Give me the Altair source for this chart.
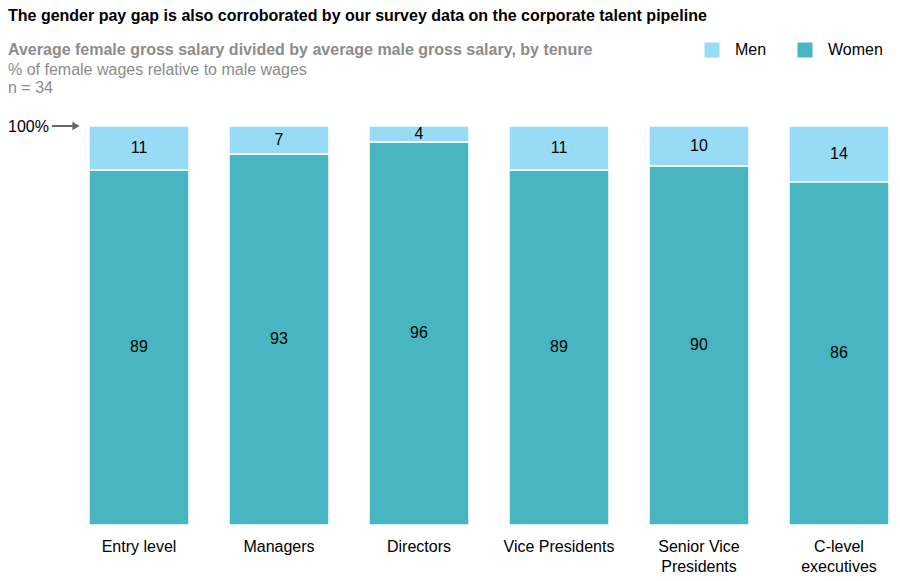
import altair as alt
import pandas as pd

categories = ["Entry level", "Managers", "Directors", "Vice Presidents",
              "Senior Vice Presidents", "C-level executives"]
men = [11, 7, 4, 11, 10, 14]
women = [89, 93, 96, 89, 90, 86]
series = ["Men", "Women"]
colors = ["#98DBF6", "#48B6C2"]

FONT = "Liberation Sans"
FS = 16

rows = []
for c, m, w in zip(categories, men, women):
    rows.append({"category": c, "series": "Women", "value": w, "ord": 0, "mid": w / 2})
    rows.append({"category": c, "series": "Men", "value": m, "ord": 1, "mid": w + m / 2})
df = pd.DataFrame(rows)

label_expr = ("datum.label == 'Senior Vice Presidents' ? ['Senior Vice','Presidents'] : "
              "datum.label == 'C-level executives' ? ['C-level','executives'] : datum.label")

xenc = alt.X("category:N", sort=categories, title=None,
             scale=alt.Scale(paddingInner=0.2857, paddingOuter=0.0214),
             axis=alt.Axis(domain=False, ticks=False, labelAngle=0, labelFont=FONT,
                           labelFontSize=FS, labelColor="black", labelPadding=13,
                           labelLineHeight=20, labelExpr=label_expr, labelBaseline="top"))

bars = alt.Chart(df).mark_bar(stroke="white", strokeWidth=1.5).encode(
    x=xenc,
    y=alt.Y("value:Q", stack="zero", scale=alt.Scale(domain=[0, 100], nice=False), axis=None),
    color=alt.Color("series:N", scale=alt.Scale(domain=series, range=colors),
                    legend=alt.Legend(title=None, orient="none", legendX=618, legendY=-84,
                                      direction="horizontal", symbolType="square",
                                      symbolSize=225, symbolStrokeWidth=0, symbolOpacity=1,
                                      labelFont=FONT, labelFontSize=FS, labelColor="black",
                                      labelOffset=15, columnPadding=30)),
    order=alt.Order("ord:Q"),
)

labels = alt.Chart(df).mark_text(font=FONT, fontSize=FS, color="black").encode(
    x=alt.X("category:N", sort=categories),
    y=alt.Y("mid:Q"),
    text=alt.Text("value:Q"),
)

ann = pd.DataFrame({"a": [0]})
title_txt = alt.Chart(ann).mark_text(
    text="The gender pay gap is also corroborated by our survey data on the corporate talent pipeline",
    font=FONT, fontSize=FS, fontWeight="bold", color="black", align="left", baseline="alphabetic"
).encode(x=alt.value(-78), y=alt.value(-105))
sub1 = alt.Chart(ann).mark_text(
    text="Average female gross salary divided by average male gross salary, by tenure",
    font=FONT, fontSize=FS, fontWeight="bold", color="#8C8C8C", align="left", baseline="alphabetic"
).encode(x=alt.value(-78), y=alt.value(-71))
sub2 = alt.Chart(ann).mark_text(
    text="% of female wages relative to male wages",
    font=FONT, fontSize=FS, color="#8C8C8C", align="left", baseline="alphabetic"
).encode(x=alt.value(-78), y=alt.value(-51))
sub3 = alt.Chart(ann).mark_text(
    text="n = 34",
    font=FONT, fontSize=FS, color="#8C8C8C", align="left", baseline="alphabetic"
).encode(x=alt.value(-78), y=alt.value(-33))
pct = alt.Chart(ann).mark_text(
    text="100%", font=FONT, fontSize=FS, color="black", align="left", baseline="middle"
).encode(x=alt.value(-78), y=alt.value(1))
arrow_line = alt.Chart(ann).mark_rule(color="#666666", strokeWidth=2).encode(
    x=alt.value(-34), x2=alt.value(-13), y=alt.value(0))
arrow_head = alt.Chart(ann).mark_point(shape="triangle-right", filled=True, color="#666666",
                                       size=70, opacity=1).encode(
    x=alt.value(-10), y=alt.value(0))

chart = alt.layer(bars, labels, title_txt, sub1, sub2, sub3, pct, arrow_line, arrow_head).properties(
    width=806, height=399,
    padding={"left": 78, "top": 118, "right": 0, "bottom": 48},
    autosize=alt.AutoSizeParams(type="none"),
    background="white",
).configure_view(stroke=None)

chart.save("out.html", embed_options={"renderer": "svg", "actions": False})
